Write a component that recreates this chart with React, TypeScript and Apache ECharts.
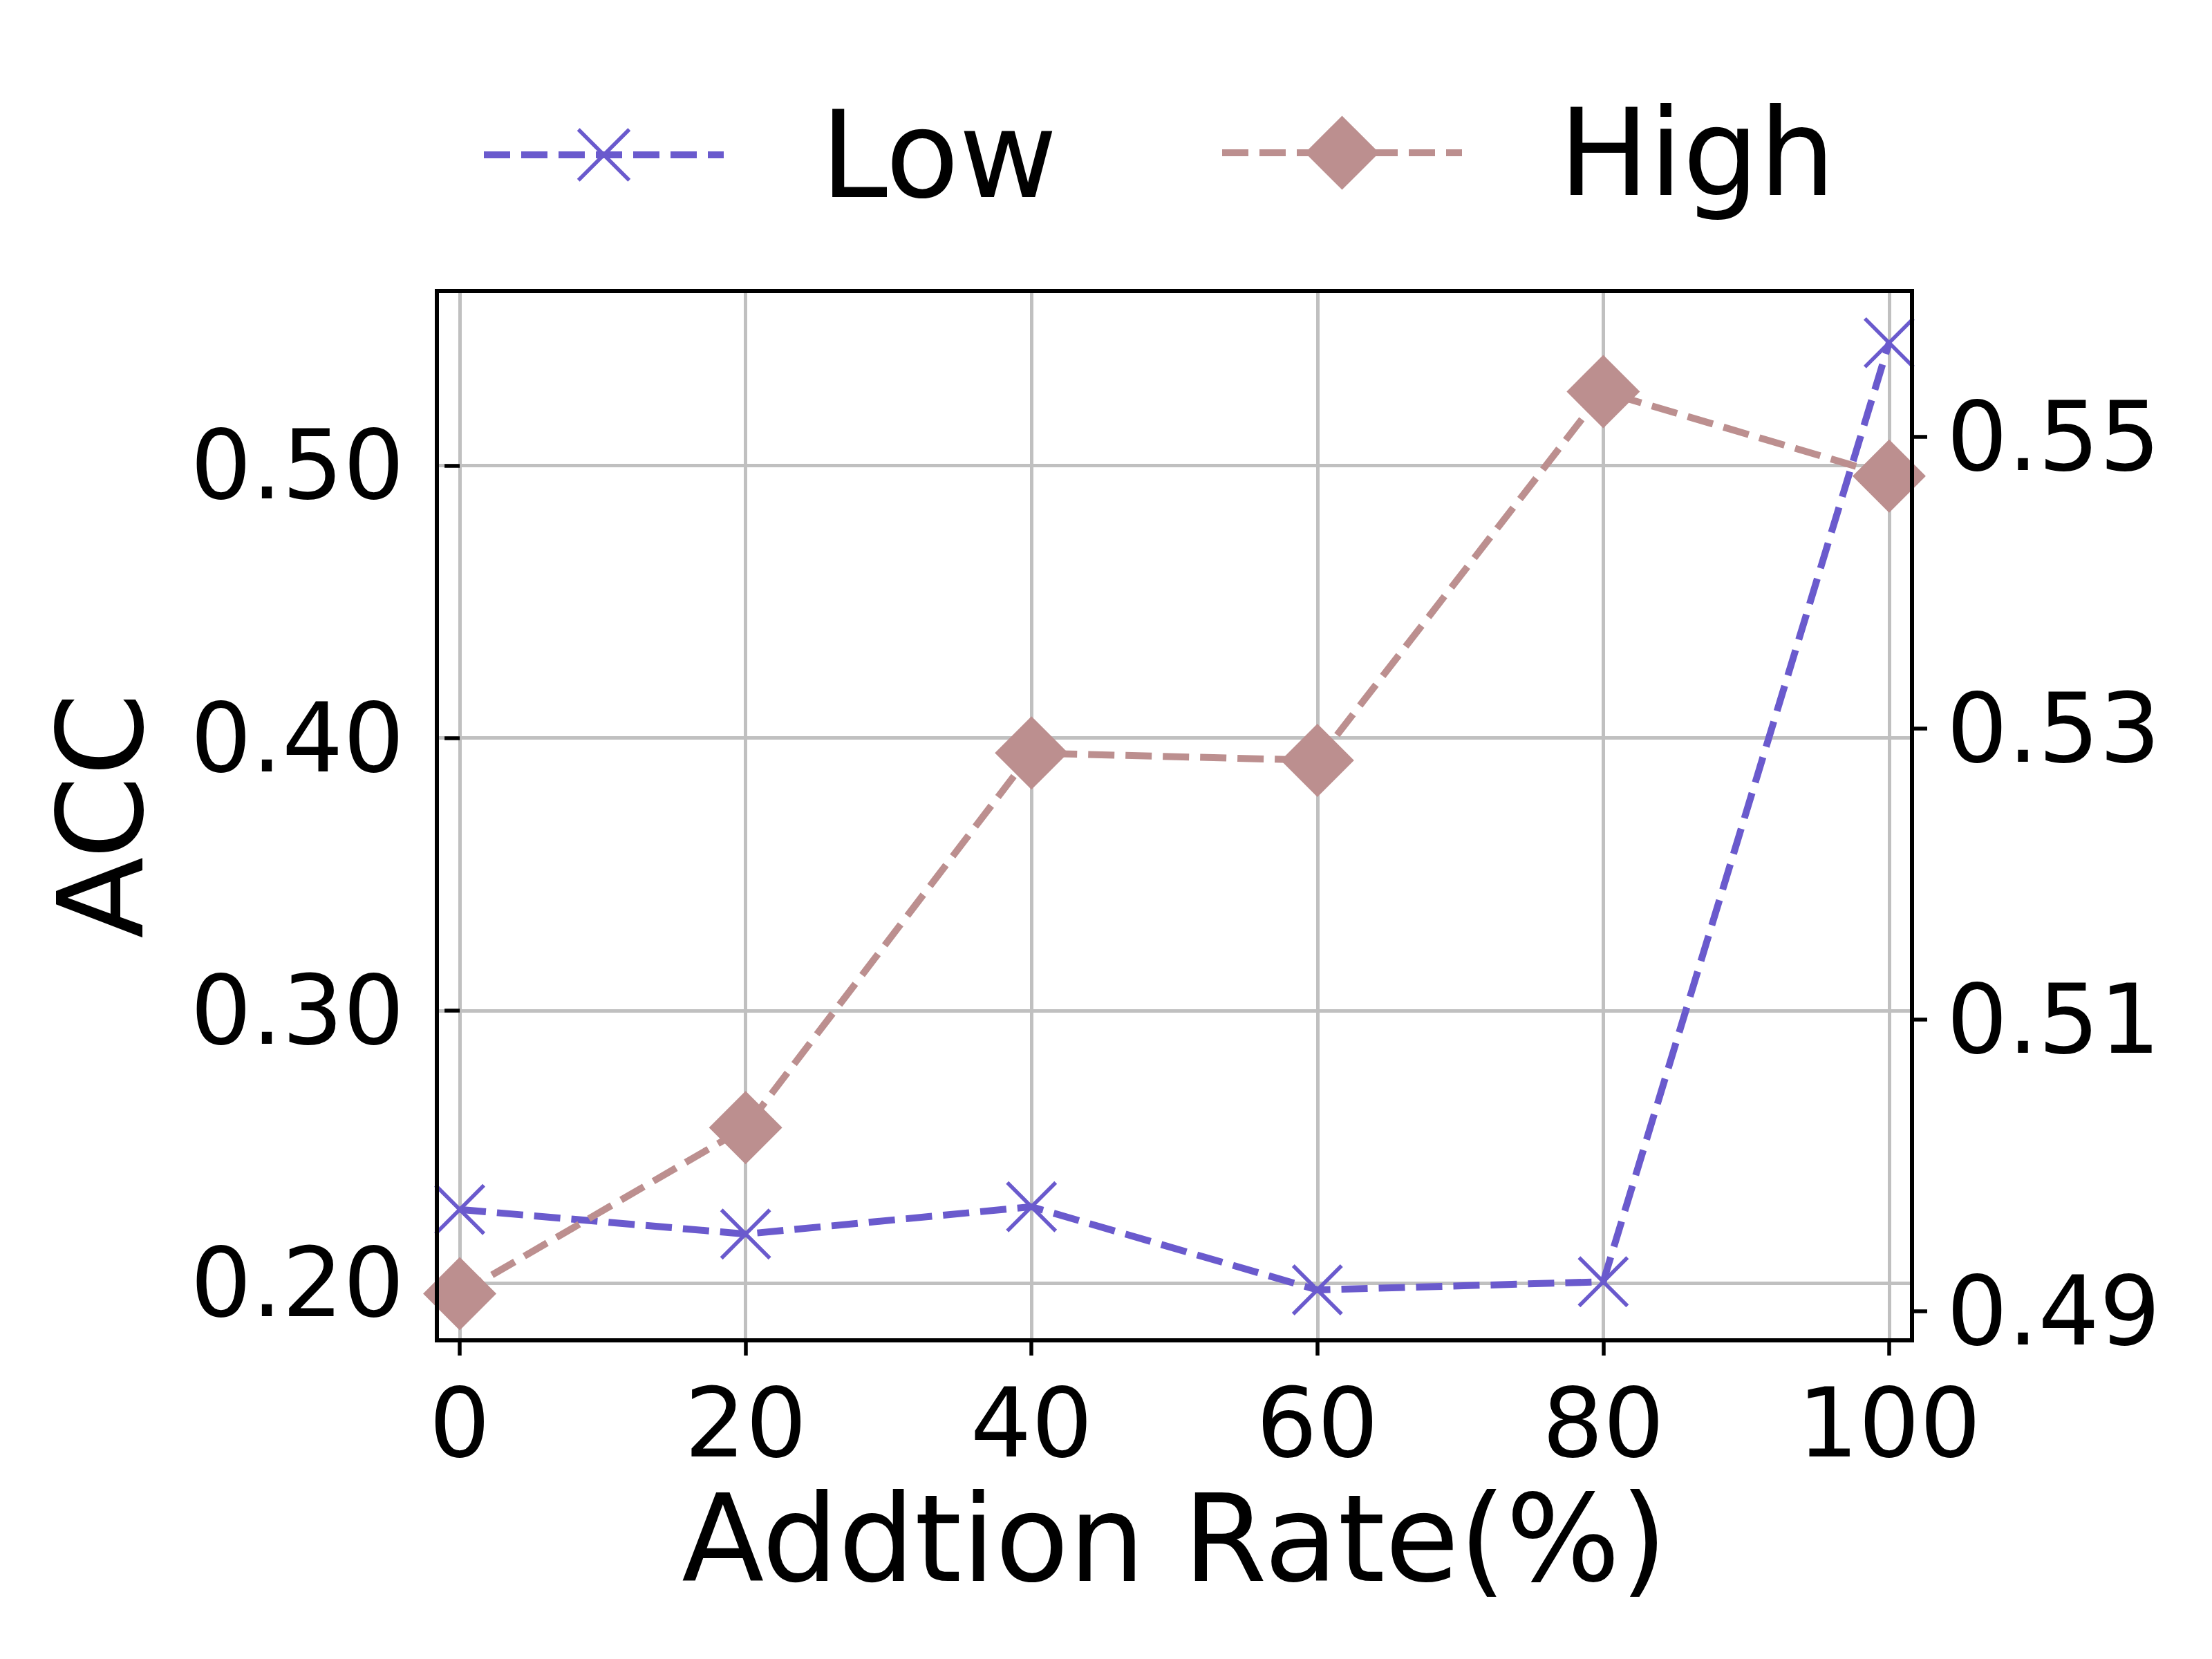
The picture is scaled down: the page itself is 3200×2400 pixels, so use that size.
import React, { useEffect, useRef } from "react";
import * as echarts from "echarts";

const xValues = [0, 20, 40, 60, 80, 100];
const lowAcc = [0.227, 0.218, 0.228, 0.1975, 0.2005, 0.545];
const highAcc = [0.4912, 0.5026, 0.5283, 0.5278, 0.5531, 0.5473];
const xTicks = [0, 20, 40, 60, 80, 100];
const leftTicks = [0.2, 0.3, 0.4, 0.5];
const rightTicks = [0.49, 0.51, 0.53, 0.55];
const seriesNames = ["Low", "High"];
const xTitle = "Addtion Rate(%)";
const yTitle = "ACC";

const LOW_COLOR = "#6A5ACD";
const HIGH_COLOR = "#BC8F8F";
const FONT = "DejaVu Sans";
const X_SYMBOL = "path://M0,0L10,10M10,0L0,10";
const DASH = [38, 16];

export default function App() {
  const ref = useRef<HTMLDivElement>(null);
  useEffect(() => {
    if (!ref.current) return;
    const chart = echarts.init(ref.current, null, { renderer: "svg" });
    const tickStyle = { show: true, inside: false, length: 22, lineStyle: { color: "#000", width: 5.5 } };
    const option: any = {
      animation: false,
      backgroundColor: "#ffffff",
      textStyle: { fontFamily: FONT },
      grid: {
        left: 632,
        right: 434,
        top: 421,
        bottom: 461,
        show: true,
        borderColor: "#000",
        borderWidth: 6,
        backgroundColor: "transparent",
        z: 10,
      },
      legend: [
        {
          data: [seriesNames[0]],
          left: 690,
          top: 132,
          itemWidth: 347,
          itemHeight: 92,
          selectedMode: false,
          lineStyle: { color: LOW_COLOR, width: 10, type: DASH },
          itemStyle: { color: LOW_COLOR, borderColor: LOW_COLOR, borderWidth: 5.5 },
          textStyle: { fontSize: 174, color: "#000", fontFamily: FONT, padding: [0, 0, 0, 135] },
        },
        {
          data: [seriesNames[1]],
          left: 1758,
          top: 129,
          itemWidth: 347,
          itemHeight: 134,
          selectedMode: false,
          lineStyle: { color: HIGH_COLOR, width: 10, type: DASH },
          itemStyle: { color: HIGH_COLOR, borderWidth: 0 },
          textStyle: { fontSize: 174, color: "#000", fontFamily: FONT, padding: [0, 0, 0, 135] },
        },
      ],
      xAxis: {
        type: "value",
        min: -1.6,
        max: 101.6,
        name: xTitle,
        nameLocation: "middle",
        nameGap: 200,
        nameTextStyle: { fontSize: 174, color: "#000", fontFamily: FONT },
        axisLine: { show: false },
        axisTick: { ...tickStyle, customValues: xTicks },
        axisLabel: {
          customValues: xTicks,
          fontSize: 139,
          color: "#000",
          fontFamily: FONT,
          margin: 50,
        },
        splitLine: { show: true, lineStyle: { color: "#c0c0c0", width: 5 } },
      },
      yAxis: [
        {
          type: "value",
          position: "left",
          min: 0.179,
          max: 0.564,
          name: yTitle,
          nameLocation: "middle",
          nameGap: 400,
          nameTextStyle: { fontSize: 172, color: "#000", fontFamily: FONT },
          axisLine: { show: false },
          axisTick: { ...tickStyle, customValues: leftTicks },
          axisLabel: {
            customValues: leftTicks,
            fontSize: 139,
            color: "#000",
            fontFamily: FONT,
            margin: 47,
            formatter: (v: number) => v.toFixed(2),
          },
          splitLine: { show: true, lineStyle: { color: "#c0c0c0", width: 5 } },
        },
        {
          type: "value",
          position: "right",
          min: 0.488,
          max: 0.56,
          axisLine: { show: false },
          axisTick: { ...tickStyle, customValues: rightTicks },
          axisLabel: {
            customValues: rightTicks,
            fontSize: 139,
            color: "#000",
            fontFamily: FONT,
            margin: 50,
            formatter: (v: number) => v.toFixed(2),
          },
          splitLine: { show: false },
        },
      ],
      series: [
        {
          name: seriesNames[0],
          type: "line",
          yAxisIndex: 0,
          data: xValues.map((x, i) => [x, lowAcc[i]]),
          symbol: X_SYMBOL,
          symbolSize: 70,
          lineStyle: { color: LOW_COLOR, width: 10, type: DASH },
          itemStyle: { color: LOW_COLOR, borderColor: LOW_COLOR, borderWidth: 5.5 },
          emphasis: { disabled: true },
          z: 3,
        },
        {
          name: seriesNames[1],
          type: "line",
          yAxisIndex: 1,
          data: xValues.map((x, i) => [x, highAcc[i]]),
          symbol: "diamond",
          symbolSize: 106,
          lineStyle: { color: HIGH_COLOR, width: 10, type: DASH },
          itemStyle: { color: HIGH_COLOR, borderWidth: 0 },
          emphasis: { disabled: true },
          z: 4,
        },
      ],
    };
    chart.setOption(option);
    return () => chart.dispose();
  }, []);
  return (
    <div
      ref={ref}
      style={{ position: "absolute", left: 0, top: 0, width: 3200, height: 2400, background: "#fff" }}
    />
  );
}
